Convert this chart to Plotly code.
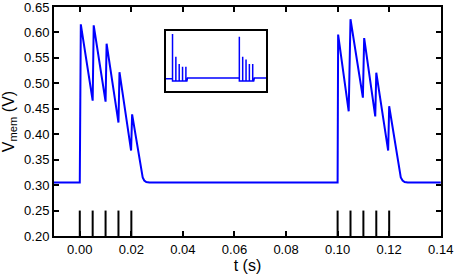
import plotly.graph_objects as go

# membrane voltage trace (s, V)
t_mem = [-0.01, 0.0, 0.0004, 0.005, 0.0054, 0.010, 0.0104, 0.0150, 0.0154,
         0.0199, 0.0203, 0.0238, 0.0244, 0.0250, 0.0258, 0.0270,
         0.1000, 0.1002, 0.1043, 0.1050, 0.1098, 0.1103, 0.1146, 0.1150,
         0.1196, 0.1200, 0.1238, 0.1245, 0.1252, 0.1260, 0.1272, 0.14]
v_mem = [0.305, 0.305, 0.616, 0.466, 0.614, 0.464, 0.578, 0.423, 0.522,
         0.368, 0.439, 0.330, 0.315, 0.309, 0.306, 0.305,
         0.305, 0.596, 0.445, 0.626, 0.472, 0.589, 0.435, 0.521,
         0.368, 0.455, 0.330, 0.315, 0.309, 0.306, 0.305, 0.305]

# input spike times (s)
spike_times = [0.0, 0.005, 0.010, 0.015, 0.020, 0.100, 0.105, 0.110, 0.115, 0.120]

# inset trace (normalised units)
t_inset = [-0.01, 0.0, 0.0, 0.0, 0.005, 0.005, 0.005, 0.010, 0.010, 0.010,
           0.015, 0.015, 0.015, 0.020, 0.020, 0.020, 0.0215, 0.0225,
           0.1, 0.1, 0.1, 0.1, 0.105, 0.105, 0.105, 0.110, 0.110, 0.110,
           0.115, 0.115, 0.115, 0.120, 0.120, 0.120, 0.1215, 0.1225, 0.14]
v_inset = [0.20, 0.20, 0.945, 0.16, 0.16, 0.567, 0.16, 0.16, 0.445, 0.16,
           0.16, 0.40, 0.16, 0.16, 0.40, 0.16, 0.16, 0.21,
           0.21, 0.20, 0.90, 0.16, 0.16, 0.567, 0.16, 0.16, 0.52, 0.16,
           0.16, 0.445, 0.16, 0.16, 0.445, 0.16, 0.16, 0.21, 0.21]

y_ticks = [0.20, 0.25, 0.30, 0.35, 0.40, 0.45, 0.50, 0.55, 0.60, 0.65]
x_ticks = [0.00, 0.02, 0.04, 0.06, 0.08, 0.10, 0.12, 0.14]

raster_x, raster_y = [], []
for ts in spike_times:
    raster_x += [ts, ts, None]
    raster_y += [0.20, 0.25, None]

fig = go.Figure()
fig.add_trace(go.Scatter(x=t_mem, y=v_mem, mode="lines",
                         line=dict(color="#0000ff", width=2)))
fig.add_trace(go.Scatter(x=raster_x, y=raster_y, mode="lines",
                         line=dict(color="black", width=2)))
fig.add_trace(go.Scatter(x=t_inset, y=v_inset, mode="lines",
                         line=dict(color="#0000ff", width=1.5),
                         xaxis="x2", yaxis="y2"))

axis_style = dict(showline=True, linecolor="black", linewidth=2, mirror="allticks",
                  ticks="inside", ticklen=5, tickwidth=1.5, tickcolor="black",
                  showgrid=False, zeroline=False, automargin=False,
                  ticklabeloverflow="allow")

fig.update_layout(
    width=454, height=275,
    margin=dict(l=54, r=13, t=7, b=39),
    paper_bgcolor="white", plot_bgcolor="white",
    showlegend=False,
    font=dict(family="Liberation Sans, Arial, sans-serif", size=13, color="black"),
    xaxis=dict(range=[-0.01, 0.1401], tickvals=x_ticks,
               ticktext=[f"{v:.2f}" for v in x_ticks],
               title=dict(text="t (s)", standoff=4), **axis_style),
    yaxis=dict(range=[0.20, 0.6501], tickvals=y_ticks,
               ticktext=[f"{v:.2f}" for v in y_ticks],
               title=dict(text="V<sub>mem</sub> (V)", standoff=6), **axis_style),
    xaxis2=dict(domain=[0.289, 0.548], anchor="y2", range=[-0.01, 0.14],
                showline=True, mirror=True, linecolor="black", linewidth=2,
                showticklabels=False, ticks="", showgrid=False, zeroline=False),
    yaxis2=dict(domain=[0.635, 0.896], anchor="x2", range=[0, 1],
                showline=True, mirror=True, linecolor="black", linewidth=2,
                showticklabels=False, ticks="", showgrid=False, zeroline=False),
)

# drop the default page margin so the figure sits at the window's corner
fig.write_html("out.html", config={"displayModeBar": False},
               post_script="document.body.style.margin='0';")
